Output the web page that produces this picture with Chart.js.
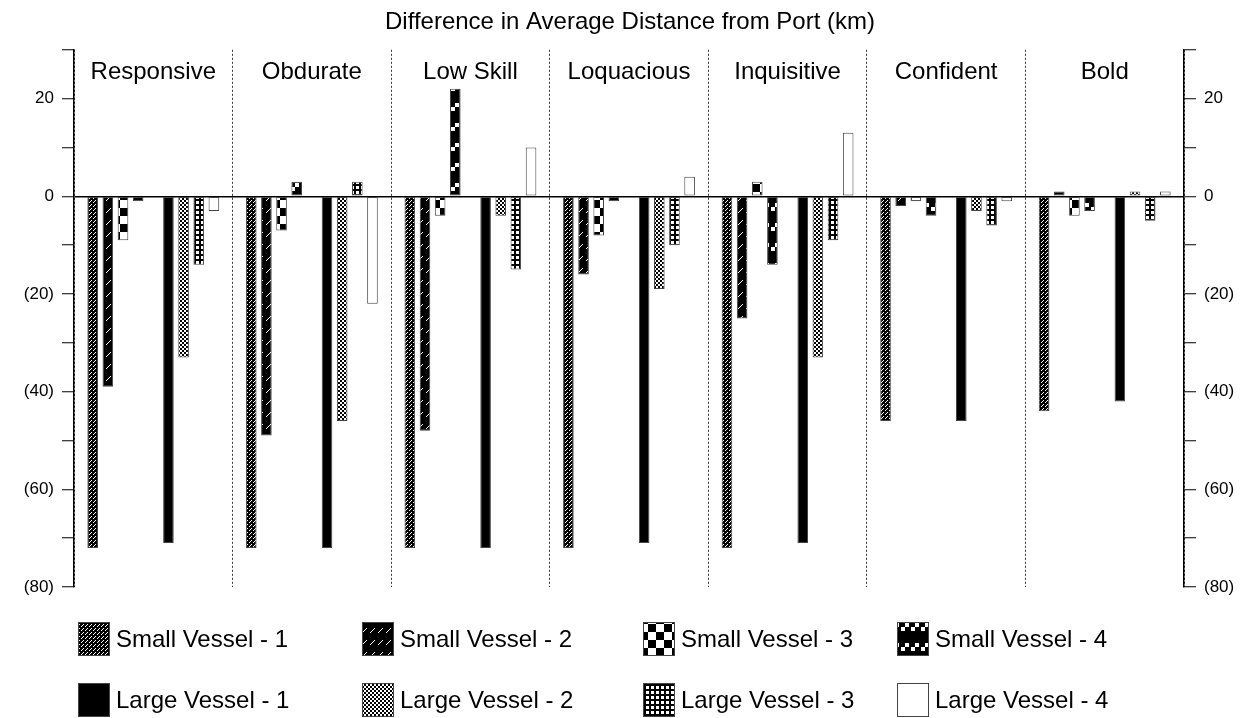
<!DOCTYPE html>
<html>
<head>
<meta charset="utf-8">
<script src="https://cdn.jsdelivr.net/npm/chart.js@4.4.0/dist/chart.umd.min.js"></script>
<style>
  html, body { margin: 0; padding: 0; background: #fff; }
  #wrap { width: 1260px; height: 718px; }
</style>
</head>
<body>
<div id="wrap"><canvas id="graficoDistancia" width="1260" height="718"></canvas></div>
<script>
const categorias = ['Responsive', 'Obdurate', 'Low Skill', 'Loquacious', 'Inquisitive', 'Confident', 'Bold']
const small1 = [-72, -72, -72, -72, -72, -46, -44]
const small2 = [-39, -49, -48, -16, -25, -2, 1]
const small3 = [-9, -7, -4, -8, 3, -1, -4]
const small4 = [-1, 3, 22, -1, -14, -4, -3]
const large1 = [-71, -72, -72, -71, -71, -46, -42]
const large2 = [-33, -46, -4, -19, -33, -3, 1]
const large3 = [-14, 3, -15, -10, -9, -6, -5]
const large4 = [-3, -22, 10, 4, 13, -1, 1]
const vazio = [null, null, null, null, null, null, null]

const FONTE = '"Liberation Sans", Arial, sans-serif'

// small tiles for the hatch fills
function padrao(w, h, desenha) {
  const c = document.createElement('canvas')
  c.width = w
  c.height = h
  const g = c.getContext('2d')
  desenha(g, w, h)
  return document.getElementById('graficoDistancia').getContext('2d').createPattern(c, 'repeat')
}

const pSmall1 = padrao(4, 4, (g) => {
  g.fillStyle = '#000'; g.fillRect(0, 0, 4, 4)
  g.fillStyle = '#fff'
  g.fillRect(3, 0, 1, 1); g.fillRect(2, 1, 1, 1); g.fillRect(1, 2, 1, 1)
})
const pSmall2 = padrao(8, 12, (g) => {
  g.fillStyle = '#000'; g.fillRect(0, 0, 8, 12)
  g.fillStyle = '#fff'
  for (let i = 0; i < 5; i++) g.fillRect(2 + i, 8 - i, 1, 1)
})
const pSmall3 = padrao(16, 16, (g) => {
  g.fillStyle = '#fff'; g.fillRect(0, 0, 16, 16)
  g.fillStyle = '#000'
  g.fillRect(0, 8, 8, 8); g.fillRect(8, 0, 8, 8)
})
const pSmall4 = padrao(10, 20, (g) => {
  g.fillStyle = '#000'; g.fillRect(0, 0, 10, 20)
  g.fillStyle = '#fff'
  g.fillRect(5, 3, 4, 4); g.fillRect(1, 7, 4, 4)
})
const pLarge2 = padrao(4, 4, (g) => {
  g.fillStyle = '#fff'; g.fillRect(0, 0, 4, 4)
  g.fillStyle = '#000'
  g.fillRect(0, 0, 2, 2); g.fillRect(2, 2, 2, 2)
})
const pLarge3 = padrao(5, 5, (g) => {
  g.fillStyle = '#000'; g.fillRect(0, 0, 5, 5)
  g.fillStyle = '#fff'; g.fillRect(1, 1, 3, 3)
})

function serie(label, data, fill) {
  return {
    label, data,
    backgroundColor: fill,
    borderColor: '#444',
    borderWidth: 1,
    borderSkipped: false,
    categoryPercentage: 0.86,
    barPercentage: 0.7
  }
}

const datasets = [
  serie('Small Vessel - 1', small1, pSmall1),
  serie('Small Vessel - 2', small2, pSmall2),
  serie('Small Vessel - 3', small3, pSmall3),
  serie('Small Vessel - 4', small4, pSmall4),
  serie('', vazio, 'transparent'),
  serie('Large Vessel - 1', large1, '#000'),
  serie('Large Vessel - 2', large2, pLarge2),
  serie('Large Vessel - 3', large3, pLarge3),
  serie('Large Vessel - 4', large4, '#fff')
]

function rotuloY(v) {
  if (v % 20 !== 0 || v > 20) return ''
  if (v < 0) return '(' + (-v) + ')'
  return String(v)
}

// category names written inside the top of the plot
const nomesCategorias = {
  id: 'nomesCategorias',
  afterDatasetsDraw(chart) {
    const { ctx, scales } = chart
    ctx.save()
    ctx.fillStyle = '#000'
    ctx.font = '24px ' + FONTE
    ctx.textAlign = 'center'
    ctx.textBaseline = 'middle'
    categorias.forEach((c, i) => {
      ctx.fillText(c, scales.x.getPixelForValue(i), chart.chartArea.top + 23)
    })
    ctx.restore()
  }
}

// legend in a 4 x 2 grid under the plot
const legendaGrade = {
  id: 'legendaGrade',
  afterDraw(chart) {
    const { ctx } = chart
    const colX = [78, 362, 643, 897]
    const rowY = [622, 683]
    const itens = chart.data.datasets.filter(d => d.label)
    ctx.save()
    ctx.font = '24px ' + FONTE
    ctx.textBaseline = 'middle'
    ctx.fillStyle = '#000'
    itens.forEach((d, i) => {
      const x = colX[i % 4]
      const y = rowY[Math.floor(i / 4)]
      ctx.fillStyle = d.backgroundColor
      ctx.fillRect(x, y, 32, 34)
      ctx.strokeStyle = '#444'
      ctx.lineWidth = 1
      ctx.strokeRect(x + 0.5, y + 0.5, 31, 33)
      ctx.fillStyle = '#000'
      ctx.fillText(d.label, x + 38, y + 18)
    })
    ctx.restore()
  }
}

const eixoY = (pos) => ({
  type: 'linear',
  position: pos,
  min: -80,
  max: 30,
  afterFit: (s) => { s.width = pos === 'left' ? 74 : 76 },
  ticks: {
    stepSize: 10,
    color: '#000',
    padding: 8,
    font: { size: 17, family: FONTE },
    callback: rotuloY
  },
  grid: {
    drawOnChartArea: pos === 'left',
    color: (c) => (c.tick && c.tick.value === 0 ? '#000' : 'transparent'),
    lineWidth: 1.5,
    tickColor: '#000',
    tickLength: 12,
    tickWidth: 1
  },
  border: { display: true, color: '#000', width: 1.5 }
})

new Chart(document.getElementById('graficoDistancia').getContext('2d'), {
  type: 'bar',
  data: { labels: categorias, datasets },
  options: {
    responsive: false,
    animation: false,
    layout: { padding: { top: 0, bottom: 131, left: 0, right: 0 } },
    plugins: {
      legend: { display: false },
      tooltip: { enabled: false },
      title: {
        display: true,
        text: 'Difference in Average Distance from Port (km)',
        color: '#000',
        font: { size: 24, weight: 'normal', family: FONTE },
        padding: { top: 8, bottom: 13 }
      }
    },
    scales: {
      x: {
        ticks: { display: false },
        grid: {
          offset: true,
          drawTicks: false,
          color: '#333',
          lineWidth: 1
        },
        border: { display: false, dash: [2, 2] }
      },
      y: eixoY('left'),
      y2: eixoY('right')
    }
  },
  plugins: [nomesCategorias, legendaGrade]
})
</script>
</body>
</html>
